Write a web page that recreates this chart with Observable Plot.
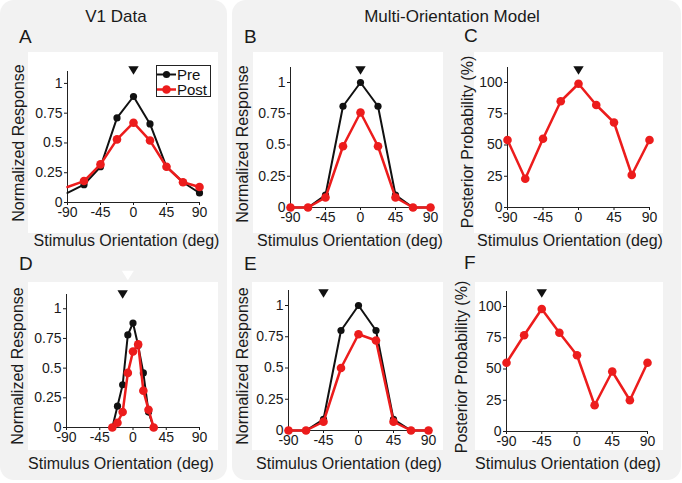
<!DOCTYPE html>
<html><head><meta charset="utf-8">
<script src="https://cdn.jsdelivr.net/npm/d3@7"></script>
<script src="https://cdn.jsdelivr.net/npm/@observablehq/plot@0.6"></script>
<style>
body{margin:0;background:#fff;font-family:"Liberation Sans",Arial,Helvetica,sans-serif;}
#root{position:relative;width:682px;height:483px;overflow:hidden;background:#fff;}
.panel{position:absolute;background:#f2f2f2;border-radius:14px;}
.white{position:absolute;background:#fff;}
.t{position:absolute;white-space:nowrap;color:#1a1a1a;line-height:1;}
.plotbox{position:absolute;}
.legend{position:absolute;background:#fff;border:1px solid #222;box-sizing:border-box;font-size:15px;color:#111;}
.legend .row{display:flex;align-items:center;height:15px;line-height:15px;}
</style></head><body><div id="root"></div>
<script>
// ---- data ----
const orientations = [-90, -67.5, -45, -22.5, 0, 22.5, 45, 67.5, 90];
const orientationsD = [-28, -21, -14, -7, 0, 7, 14, 21, 28];
const ticksX = [-90, -45, 0, 45, 90];
const ticksResp = [0, 0.25, 0.5, 0.75, 1];
const ticksProb = [0, 25, 50, 75, 100];
const seriesNames = ["Pre", "Post"];

const aPre  = [0.08, 0.15, 0.30, 0.71, 0.89, 0.66, 0.30, 0.17, 0.08];
const aPost = [0.13, 0.18, 0.32, 0.53, 0.67, 0.52, 0.30, 0.17, 0.13];
const bPre  = [0, 0, 0.10, 0.81, 1.00, 0.81, 0.10, 0, 0];
const bPost = [0, 0, 0.08, 0.49, 0.76, 0.49, 0.08, 0, 0];
const cProb = [54, 23, 55, 85, 99, 82, 68, 26, 54];
const dPre  = [0, 0.18, 0.36, 0.78, 0.88, 0.69, 0.46, 0.13, 0];
const dPost = [0, 0.04, 0.13, 0.46, 0.64, 0.70, 0.31, 0.15, 0];
const ePre  = [0, 0, 0.09, 0.80, 1.00, 0.80, 0.09, 0, 0];
const ePost = [0, 0, 0.07, 0.50, 0.77, 0.72, 0.07, 0, 0];
const fProb = [55, 77, 98, 79, 61, 21, 48, 25, 55];

// adapter markers (orientation of black triangles), one per panel A-F
const adapterX = [0, 0, 0, -14, -45, -45];
const preferredD = [-7]; // white triangle in D

const BLACK = "#111", RED = "#ec1c1c";
const root = document.getElementById("root");

function addDiv(cls, css, text) {
  const d = document.createElement("div");
  d.className = cls;
  for (const k in css) d.style[k] = css[k];
  if (text != null) d.textContent = text;
  root.appendChild(d);
  return d;
}
function label(text, x, baseline, size, center = true) {
  addDiv("t", {left: x + "px", top: (baseline - 0.8465 * size) + "px", fontSize: size + "px",
    transform: center ? "translateX(-50%)" : "none"}, text);
}
function vlabel(text, cx, cy, size) {
  addDiv("t", {left: cx + "px", top: cy + "px", fontSize: size + "px",
    transform: "translate(-50%,-50%) rotate(-90deg)"}, text);
}
const triDown = {draw(ctx, size) {
  const r = Math.sqrt(size / Math.PI);
  ctx.moveTo(-r, -0.8 * r); ctx.lineTo(r, -0.8 * r); ctx.lineTo(0, 0.8 * r); ctx.closePath();
}};
const rows = (xs, ys) => xs.map((x, i) => ({x, y: ys[i]}));

// ---- gray panels ----
addDiv("panel", {left: "0px", top: "0px", width: "227px", height: "480px"});
addDiv("panel", {left: "232px", top: "0px", width: "449px", height: "480px"});

// ---- white plot backgrounds ----
const whites = [
  [28, 52, 190, 181], [253, 52, 190, 181], [474, 52, 189, 181],
  [28, 282, 190, 168], [252, 282, 191, 168], [475, 282, 188, 168]
];
for (const [l, t, w, h] of whites) addDiv("white", {left: l + "px", top: t + "px", width: w + "px", height: h + "px"});

// ---- plots ----
const fmtPlain = d => String(d); // hyphen-minus as in the reference

function makePlot(cfg) {
  const {left, top, width, height, mL, mR, mT, mB, yMax, yTicks, pre, post, xs, preDotsFrom, adapter, adapterDy, extra} = cfg;
  const marks = [
    Plot.ruleY([0], {x1: -90, x2: 90, stroke: "#222", strokeWidth: 1}),
    Plot.ruleX([-90], {y1: 0, y2: yMax, stroke: "#222", strokeWidth: 1})
  ];
  if (pre) {
    const d = rows(xs, pre);
    marks.push(Plot.line(d, {x: "x", y: "y", stroke: BLACK, strokeWidth: 2}));
    marks.push(Plot.dot(d.filter(p => p.x >= preDotsFrom), {x: "x", y: "y", r: 3.6, fill: BLACK, stroke: "none"}));
  }
  const dp = rows(xs, post);
  marks.push(Plot.line(dp, {x: "x", y: "y", stroke: RED, strokeWidth: 2.5}));
  marks.push(Plot.dot(dp.filter(p => p.x >= preDotsFrom), {x: "x", y: "y", r: 4.3, fill: RED, stroke: "none"}));
  marks.push(Plot.dot([adapter], {x: d => d, frameAnchor: "top", dy: adapterDy, symbol: triDown, r: 5.2, fill: "#111", stroke: "none"}));
  if (extra) marks.push(extra);
  const svg = Plot.plot({
    width, height,
    marginLeft: mL, marginRight: mR, marginTop: mT, marginBottom: mB,
    style: {background: "transparent", fontSize: "14px", fontFamily: "Liberation Sans, Arial, sans-serif", color: "#1a1a1a", overflow: "visible"},
    x: {domain: [-90, 90], ticks: ticksX, tickSize: 3, tickPadding: 2, tickFormat: fmtPlain, label: null},
    y: {domain: [0, yMax], ticks: yTicks, tickSize: 3, tickPadding: 2, tickFormat: fmtPlain, label: null},
    marks
  });
  const box = addDiv("plotbox", {left: left + "px", top: top + "px"});
  box.appendChild(svg);
}

makePlot({left: 0, top: 46, width: 226, height: 210, mL: 67, mR: 27, mT: 25, mB: 54, yMax: 1.1,
  yTicks: ticksResp, pre: aPre, post: aPost, xs: orientations, preDotsFrom: -89,
  adapter: adapterX[0], adapterDy: -1});
makePlot({left: 232, top: 46, width: 222, height: 210, mL: 58, mR: 24, mT: 21, mB: 49, yMax: 1.12,
  yTicks: ticksResp, pre: bPre, post: bPost, xs: orientations, preDotsFrom: -90,
  adapter: adapterX[1], adapterDy: 3});
makePlot({left: 454, top: 46, width: 226, height: 210, mL: 53, mR: 31, mT: 21, mB: 49, yMax: 112,
  yTicks: ticksProb, pre: null, post: cProb, xs: orientations, preDotsFrom: -90,
  adapter: adapterX[2], adapterDy: 3});
makePlot({left: 0, top: 274, width: 226, height: 208, mL: 66, mR: 27, mT: 20, mB: 55, yMax: 1.12,
  yTicks: ticksResp, pre: dPre, post: dPost, xs: orientationsD, preDotsFrom: -90,
  adapter: adapterX[3], adapterDy: 0,
  extra: Plot.dot(preferredD, {x: d => d, frameAnchor: "top", dy: -19, symbol: triDown, r: 6, fill: "#fff", stroke: "none"})});
makePlot({left: 232, top: 274, width: 222, height: 208, mL: 56, mR: 26, mT: 16, mB: 52, yMax: 1.12,
  yTicks: ticksResp, pre: ePre, post: ePost, xs: orientations, preDotsFrom: -90,
  adapter: adapterX[4], adapterDy: 3});
makePlot({left: 454, top: 274, width: 226, height: 208, mL: 52, mR: 33, mT: 17, mB: 51, yMax: 112,
  yTicks: ticksProb, pre: null, post: fProb, xs: orientations, preDotsFrom: -90,
  adapter: adapterX[5], adapterDy: 2});

// ---- headings, panel letters, axis titles ----
label("V1 Data", 116, 22.5, 17);
label("Multi-Orientation Model", 452, 22.5, 17);
const letters = [["A", 19, 43], ["B", 244, 43], ["C", 464, 42], ["D", 19, 270], ["E", 244, 270], ["F", 464, 269]];
for (const [t, x, b] of letters) label(t, x, b, 19, false);

const xTitle = "Stimulus Orientation (deg)";
label(xTitle, 126.5, 246.5, 16); label(xTitle, 350, 246.5, 16); label(xTitle, 570, 246.5, 16);
label(xTitle, 121, 470, 16); label(xTitle, 349, 470, 16); label(xTitle, 568, 470, 16);
vlabel("Normalized Response", 18.5, 142.5, 16);
vlabel("Normalized Response", 242.5, 143.5, 16);
vlabel("Posterior Probability (%)", 468, 141.5, 16);
vlabel("Normalized Response", 18, 366, 16);
vlabel("Normalized Response", 242.5, 366, 16);
vlabel("Posterior Probability (%)", 461.5, 366.7, 16);

// ---- legend (panel A) ----
const lg = addDiv("legend", {left: "156px", top: "65px", width: "55px", height: "32px", paddingTop: "1px"});
[[seriesNames[0], BLACK, 3.6, 2], [seriesNames[1], RED, 4.3, 2.5]].forEach(([name, col, r, sw]) => {
  const row = document.createElement("div"); row.className = "row";
  row.innerHTML = `<svg width="20" height="15" style="flex:none"><line x1="0" y1="7.5" x2="19" y2="7.5" stroke="${col}" stroke-width="${sw}"/><circle cx="9.5" cy="7.5" r="${r}" fill="${col}"/></svg><span>${name}</span>`;
  lg.appendChild(row);
});
</script></body></html>
